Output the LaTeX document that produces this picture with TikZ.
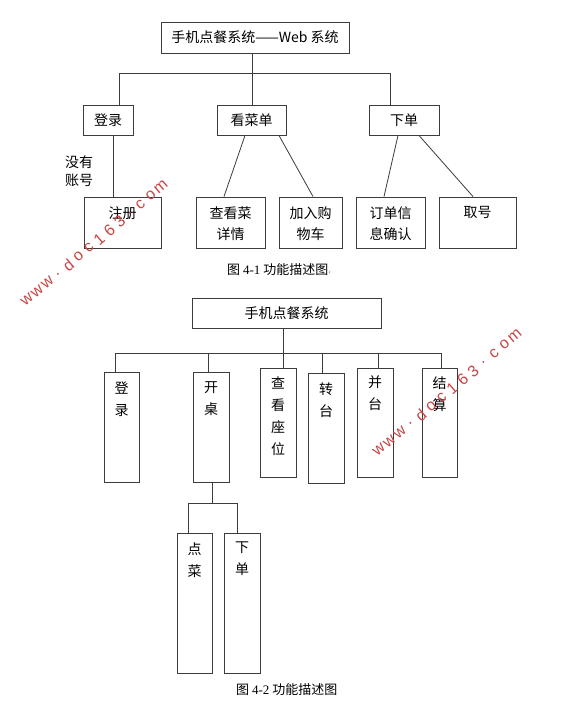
\documentclass[tikz,border=0pt]{standalone}
\usepackage{fontspec}
\newfontfamily\cjk{Noto Sans CJK SC}
\newfontfamily\wmfont{Liberation Sans}
\newfontfamily\capnum{Liberation Serif}
\usetikzlibrary{calc}
\definecolor{lncol}{RGB}{60,60,60}
\definecolor{wmred}{RGB}{200,70,70}
\begin{document}
\begin{tikzpicture}[x=1pt,y=-1pt,
  box/.style={draw=lncol, line width=0.9pt, inner sep=0pt, fill=none},
  conn/.style={draw=lncol, line width=0.8pt},
  txt/.style={font=\cjk\fontsize{14}{21}\selectfont, align=center, inner sep=0pt},
  vtxt/.style={font=\cjk\fontsize{14}{22}\selectfont, align=center, inner sep=0pt},
  toplbl/.style={txt, anchor=north, yshift=-10pt},
  vlbl/.style={vtxt, anchor=north, yshift=-10pt},
  captxt/.style={font=\cjk\fontsize{13}{15}\selectfont, inner sep=0pt},
  wm/.style={font=\wmfont\fontsize{16}{18}\selectfont, text=wmred, rotate=40.5, inner sep=0pt}
]
\useasboundingbox[fill=white] (0,0) rectangle (567,710);

% ---------- Figure 4-1 ----------
\node[box, txt, minimum width=188pt, minimum height=31pt] (title1) at (255,37.5) {手机点餐系统——Web 系统};
\node[box, txt, minimum width=50pt, minimum height=30pt] (login1) at (108,120) {登录};
\node[box, txt, minimum width=69pt, minimum height=30pt] (menu1) at (251.5,120) {看菜单};
\node[box, txt, minimum width=70pt, minimum height=30pt] (order1) at (404,120) {下单};

\node[box, minimum width=77pt, minimum height=51pt, label={[toplbl]north:注册}] (reg) at (122.5,222.5) {};
\node[box, minimum width=69pt, minimum height=51pt, label={[toplbl]north:查看菜\\详情}] (detail) at (230.5,222.5) {};
\node[box, minimum width=63pt, minimum height=51pt, label={[toplbl]north:加入购\\物车}] (cart) at (310.5,222.5) {};
\node[box, minimum width=69pt, minimum height=51pt, label={[toplbl]north:订单信\\息确认}] (confirm) at (390.5,222.5) {};
\node[box, minimum width=77pt, minimum height=51pt, label={[toplbl]north:取号}] (ticket) at (477.5,222.5) {};

\node[font=\cjk\fontsize{14}{18}\selectfont, align=left, inner sep=0pt, anchor=west] (noacct) at (65,171) {没有\\账号};

\coordinate (bus1L) at (119,73);
\coordinate (bus1M) at (252,73);
\coordinate (bus1R) at (390,73);
\draw[conn] (bus1M |- title1.south) -- (bus1M);
\draw[conn] (bus1L) -- (bus1R);
\draw[conn] (bus1L) -- (bus1L |- login1.north);
\draw[conn] (bus1M) -- (bus1M |- menu1.north);
\draw[conn] (bus1R) -- (bus1R |- order1.north);
\draw[conn] ([xshift=5pt]login1.south) -- ([xshift=5pt]login1.south |- reg.north);
\draw[conn] ([xshift=-6.5pt]menu1.south) -- ([xshift=-6.5pt]detail.north);
\draw[conn] ([xshift=27.5pt]menu1.south) -- ([xshift=2.5pt]cart.north);
\draw[conn] ([xshift=-6pt]order1.south) -- ([xshift=-6.5pt]confirm.north);
\draw[conn] ([xshift=15pt]order1.south) -- ([xshift=-4.5pt]ticket.north);

\node[captxt, anchor=west] (cap1) at (227,270) {图 {\capnum 4-1} 功能描述图{\capnum\fontsize{8}{9}\selectfont\color{black!55}‹}};

% ---------- Figure 4-2 ----------
\node[box, txt, minimum width=189pt, minimum height=30pt] (title2) at (286.5,313) {手机点餐系统};
\node[box, minimum width=35pt, minimum height=110pt, label={[vlbl]north:登\\录}] (login2) at (121.5,427) {};
\node[box, minimum width=36pt, minimum height=110pt, label={[vlbl]north:开\\桌}] (open) at (211,427) {};
\node[box, minimum width=36pt, minimum height=109pt, label={[vlbl, yshift=1pt]north:查\\看\\座\\位}] (seat) at (278,422.5) {};
\node[box, minimum width=36pt, minimum height=110pt, label={[vlbl]north:转\\台}] (transfer) at (326,428) {};
\node[box, minimum width=36pt, minimum height=109pt, label={[vlbl, yshift=2pt]north:并\\台}] (merge) at (375,422.5) {};
\node[box, minimum width=35pt, minimum height=109pt, label={[vlbl, yshift=1pt]north:结\\算}] (pay) at (439.5,422.5) {};
\node[box, minimum width=35pt, minimum height=140pt, label={[vlbl]north:点\\菜}] (dish) at (194.5,603) {};
\node[box, minimum width=36pt, minimum height=140pt, label={[vlbl, yshift=1pt]north:下\\单}] (order2) at (242,603) {};

\coordinate (bus2L) at (115,353);
\coordinate (bus2M) at (283,353);
\coordinate (bus2R) at (441,353);
\draw[conn] (bus2M |- title2.south) -- (bus2M |- seat.north);
\draw[conn] (bus2L) -- (bus2R);
\draw[conn] (bus2L) -- (bus2L |- login2.north);
\draw[conn] (208,353) -- (208,353 |- open.north);
\draw[conn] (322,353) -- (322,353 |- transfer.north);
\draw[conn] (378,353) -- (378,353 |- merge.north);
\draw[conn] (bus2R) -- (bus2R |- pay.north);

\coordinate (bus3L) at (188,503);
\coordinate (bus3M) at (212,503);
\coordinate (bus3R) at (237,503);
\draw[conn] (bus3M |- open.south) -- (bus3M);
\draw[conn] (bus3L) -- (bus3R);
\draw[conn] (bus3L) -- (bus3L |- dish.north);
\draw[conn] (bus3R) -- (bus3R |- order2.north);

\node[captxt, anchor=west] (cap2) at (236,690) {图 {\capnum 4-2} 功能描述图};

% ---------- watermarks ----------
\coordinate (wm1s) at (27,300);
\coordinate (wm1e) at (161,187);
\coordinate (wm2s) at (379,450);
\coordinate (wm2e) at (515,336);
\foreach \c [count=\i from 0] in {w,w,w,.,d,o,c,1,6,3,.,c,o,m} {
  \node[wm] (wma\i) at ($(wm1s)!\i/13!(wm1e)$) {\c};
  \node[wm] (wmb\i) at ($(wm2s)!\i/13!(wm2e)$) {\c};
}
\end{tikzpicture}
\end{document}
